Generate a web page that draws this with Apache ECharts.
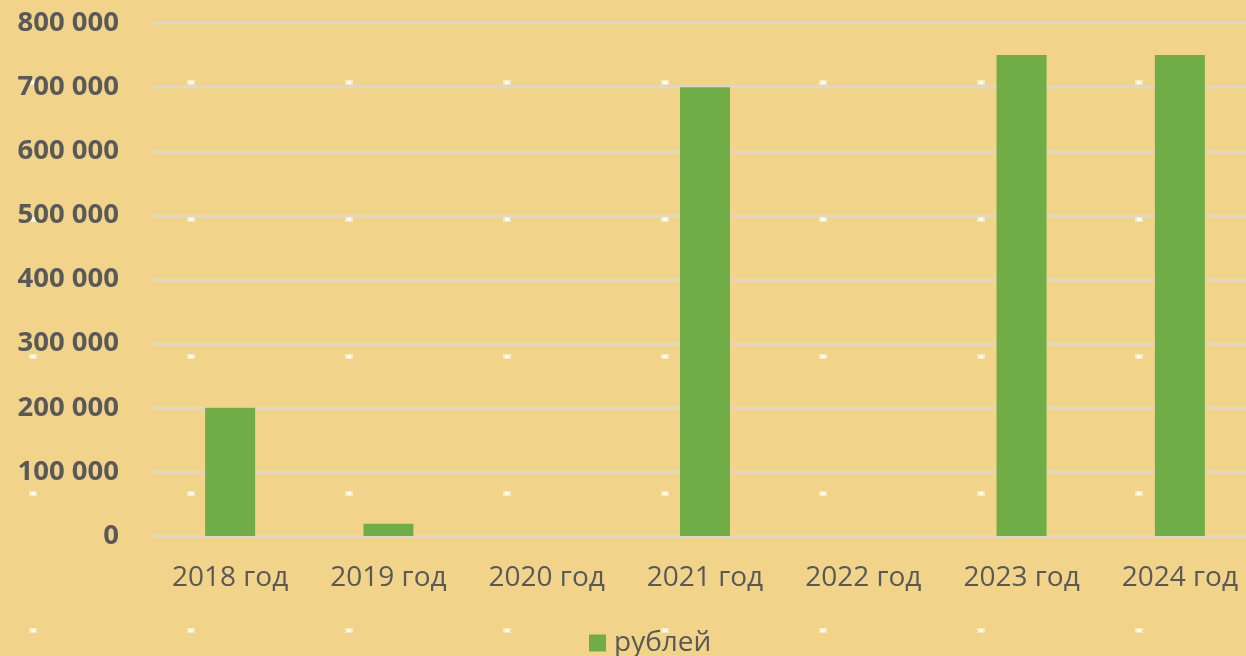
<!DOCTYPE html>
<html>
<head>
<meta charset="utf-8">
<script src="https://cdn.jsdelivr.net/npm/echarts@6/dist/echarts.min.js"></script>
<style>
  html, body { margin: 0; padding: 0; background: #F1D48A; overflow: hidden; width: 1246px; height: 656px; }
  /* the plot runs slightly past the right edge of the page */
  #chart { width: 1259px; height: 656px; }
</style>
</head>
<body>
<div id="chart"></div>
<script>
// Annual amounts, roubles
const years = ['2018 год', '2019 год', '2020 год', '2021 год', '2022 год', '2023 год', '2024 год'];
const rubles = [200000, 19000, 0, 700000, 0, 750000, 750000];
const seriesName = 'рублей';
const yTicks = [0, 100000, 200000, 300000, 400000, 500000, 600000, 700000, 800000];

const BG = '#F1D48A';

// Paper texture: small pale specks on a regular grid
function texture() {
  const c = document.createElement('canvas');
  c.width = 158; c.height = 137;
  const g = c.getContext('2d');
  g.fillStyle = BG;
  g.fillRect(0, 0, c.width, c.height);
  g.fillStyle = 'rgba(255,250,235,0.55)';
  g.fillRect(29, 80, 8, 5);
  g.fillStyle = '#FFFFFF';
  g.fillRect(31, 81, 4, 3);
  return c;
}

function fmt(v) {
  return String(v).replace(/\B(?=(\d{3})+(?!\d))/g, ' ');
}

const chart = echarts.init(document.getElementById('chart'), null, { renderer: 'canvas' });
chart.setOption({
  backgroundColor: { image: texture(), repeat: 'repeat' },
  animation: false,
  textStyle: { fontFamily: 'Open Sans' },
  grid: { left: 151, right: 0, top: 23, bottom: 120, containLabel: false },
  legend: {
    top: 629,
    left: 589,
    padding: 0,
    data: [seriesName],
    icon: 'rect',
    itemWidth: 17,
    itemHeight: 17,
    itemGap: 8,
    textStyle: { color: '#595959', fontSize: 28, fontFamily: 'Open Sans', padding: [0, 0, 0, 3] }
  },
  xAxis: {
    type: 'category',
    data: years,
    axisLine: { show: false },
    axisTick: { show: false },
    axisLabel: { color: '#595959', fontSize: 28, margin: 28, fontFamily: 'Open Sans' }
  },
  yAxis: {
    type: 'value',
    min: yTicks[0],
    max: yTicks[yTicks.length - 1],
    interval: yTicks[1] - yTicks[0],
    axisLine: { show: false },
    axisTick: { show: false },
    axisLabel: {
      color: '#595959', fontSize: 27.5, fontWeight: 'bold', margin: 32,
      fontFamily: 'Open Sans',
      formatter: fmt
    },
    splitLine: { lineStyle: { color: '#D9D9D9', width: 2 } }
  },
  series: [{
    name: seriesName,
    type: 'bar',
    data: rubles,
    barWidth: 50,
    itemStyle: { color: '#70AD47' }
  }]
});
</script>
</body>
</html>
